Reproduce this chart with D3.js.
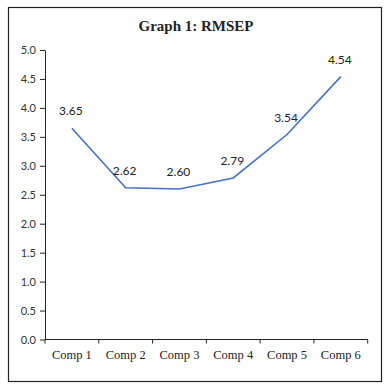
<!DOCTYPE html>
<html>
<head>
<meta charset="utf-8">
<script src="https://cdn.jsdelivr.net/npm/d3@7"></script>
<style>
body { margin: 0; background: #fff; }
</style>
</head>
<body>
<svg id="chart" width="390" height="389"></svg>
<script>
// chart values
var comps = ["Comp 1", "Comp 2", "Comp 3", "Comp 4", "Comp 5", "Comp 6"];
var rmsep = [3.65, 2.62, 2.60, 2.79, 3.54, 4.54];
var yTicks = [0, 0.5, 1, 1.5, 2, 2.5, 3, 3.5, 4, 4.5, 5];

var svg = d3.select("#chart");

// outer frame
svg.append("rect")
	.attr("x", 8.5).attr("y", 7.5)
	.attr("width", 373).attr("height", 374)
	.attr("fill", "#fff")
	.attr("stroke", "#222")
	.attr("stroke-width", 1.2);

svg.append("text")
	.attr("x", 196).attr("y", 31)
	.attr("text-anchor", "middle")
	.style("font-family", "'Liberation Serif', 'DejaVu Serif', serif")
	.style("font-weight", "bold")
	.style("font-size", "15px")
	.style("fill", "#222")
	.text("Graph 1: RMSEP");

var x = d3.scaleBand().domain(comps).range([45, 367.7]);
var y = d3.scaleLinear().domain([0, 5]).range([339.5, 50]);

// y axis
var yAxis = svg.append("g")
	.attr("transform", "translate(45,0)")
	.call(d3.axisLeft(y).tickValues(yTicks).tickFormat(d3.format(".1f")).tickSize(5).tickSizeOuter(0));
yAxis.select(".domain").attr("stroke", "#222");
yAxis.selectAll(".tick line").attr("stroke", "#222");
yAxis.selectAll("text")
	.attr("x", -9)
	.style("font-family", "Lato, 'DejaVu Sans', sans-serif")
	.style("font-size", "11px")
	.style("fill", "#333");

// x axis, ticks on band edges
var xAxis = svg.append("g")
	.attr("transform", "translate(0,339.5)");
xAxis.append("line")
	.attr("x1", 45).attr("x2", 367.7)
	.attr("stroke", "#222");
xAxis.selectAll("line.tk")
	.data(comps.concat([null]))
	.enter().append("line")
	.attr("class", "tk")
	.attr("x1", function(d, i){ return i < comps.length ? x(d) : x.range()[1]; })
	.attr("x2", function(d, i){ return i < comps.length ? x(d) : x.range()[1]; })
	.attr("y1", 0).attr("y2", 4)
	.attr("stroke", "#222");
xAxis.selectAll("text")
	.data(comps)
	.enter().append("text")
	.attr("x", function(d){ return x(d) + x.bandwidth()/2; })
	.attr("y", 19)
	.attr("text-anchor", "middle")
	.style("font-family", "'Liberation Serif', 'DejaVu Serif', serif")
	.style("font-size", "12.5px")
	.style("fill", "#222")
	.text(function(d){ return d; });

// series line
var line = d3.line()
	.x(function(d, i){ return x(comps[i]) + x.bandwidth()/2; })
	.y(function(d){ return y(d); });

svg.append("path")
	.datum(rmsep)
	.attr("d", line)
	.attr("fill", "none")
	.attr("stroke", "#4472C4")
	.attr("stroke-width", 1.6);

// data labels
svg.selectAll("text.lbl")
	.data(rmsep)
	.enter().append("text")
	.attr("class", "lbl")
	.attr("x", function(d, i){ return x(comps[i]) + x.bandwidth()/2 - 1; })
	.attr("y", function(d){ return y(d) - 13; })
	.attr("text-anchor", "middle")
	.style("font-family", "Lato, 'Liberation Sans', sans-serif")
	.style("font-size", "12px")
	.style("fill", "#222")
	.text(function(d){ return d.toFixed(2); });
</script>
</body>
</html>
